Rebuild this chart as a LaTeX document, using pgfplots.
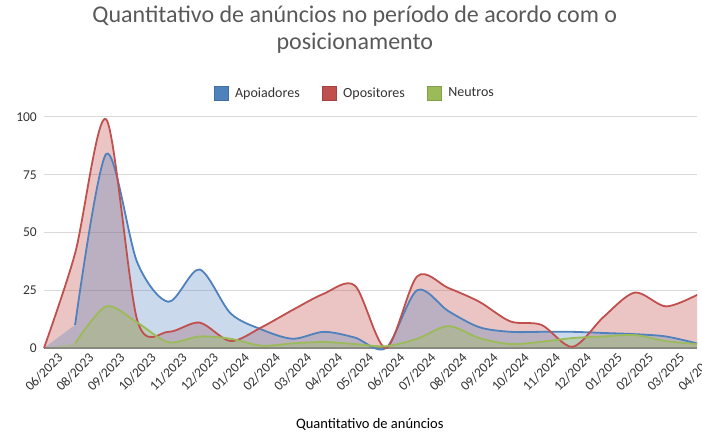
\documentclass[border=0pt]{standalone}
\usepackage{pgfplots}
\pgfplotsset{compat=1.18}
\usepackage{fontspec}
\setmainfont{Carlito}
\definecolor{cblue}{HTML}{4F81BD}
\definecolor{cred}{HTML}{C0504D}
\definecolor{cgreen}{HTML}{9BBB59}
\definecolor{ctext}{HTML}{595959}
\definecolor{cgrid}{HTML}{D9D9D9}
\definecolor{caxis}{HTML}{868686}
\begin{document}
\begin{tikzpicture}
\path[use as bounding box] (0pt,0pt) rectangle (702pt,434pt);
\begin{axis}[
  at={(44pt,86pt)}, anchor=south west,
  scale only axis, width=653pt, height=231pt,
  xmin=0, xmax=21, ymin=0, ymax=100,
  clip=false,
  xtick={0,...,21},
  xticklabels={06/2023,08/2023,09/2023,10/2023,11/2023,12/2023,01/2024,02/2024,03/2024,04/2024,05/2024,06/2024,07/2024,08/2024,09/2024,10/2024,11/2024,12/2024,01/2025,02/2025,03/2025,04/2025},
  ytick={0,25,50,75,100},
  ymajorgrids, major grid style={cgrid, line width=1pt},
  major tick length=0pt,
  axis x line*=bottom, axis y line*=left,
  y axis line style={draw=none},
  x axis line style={draw=caxis, line width=1.3pt},
  tick label style={font=\fontsize{13.5}{15}\selectfont, text=black!80},
  /pgf/number format/assume math mode=true,
  xticklabel style={rotate=45, anchor=north east, inner sep=1pt, xshift=7pt, yshift=-11pt},
  yticklabel style={inner sep=2pt, xshift=-5pt},
  title={Quantitativo de anúncios no período de acordo com o\\posicionamento},
  title style={at={(0.476,1.351)}, anchor=center, align=center, font=\fontsize{24}{27}\selectfont, text=ctext},
  xlabel={Quantitativo de anúncios},
  xlabel style={at={(0.499,-0.333)}, anchor=center, font=\fontsize{14.5}{16}\selectfont, text=black},
  legend style={at={(0.476,1.104)}, anchor=center, draw=none, legend columns=3,
    font=\fontsize{14}{16}\selectfont, text=black!80,
    /tikz/every odd column/.append style={column sep=5pt},
    /tikz/every even column/.append style={column sep=20pt}},
  legend image code/.code={\draw[#1] (0pt,-7pt) rectangle (14pt,7pt);},
]
% areas
\addplot[forget plot, draw=none, fill=cred, fill opacity=0.33, smooth] coordinates {
(0,0)(1,41)(2,99)(3,12)(4,7)(5,11)(6,3)(7,9)(8,16.5)(9,23.5)(10,27)(11,0)(12,31)(13,26)(14,20)(15,11.5)(16,10)(17,0.5)(18,13.5)(19,24)(20,18)(21,23)} \closedcycle;
\addplot[forget plot, draw=none, fill=cblue, fill opacity=0.3, sharp plot] coordinates {(0,0)(1,10)(1,0)} -- cycle;
\addplot[forget plot, draw=none, fill=cblue, fill opacity=0.3, smooth] coordinates {
(1,10)(2,84)(3,37)(4,20)(5,34)(6,15)(7,8)(8,4)(9,7)(10,4.5)(11,0)(12,25)(13,16)(14,9)(15,7)(16,7)(17,7)(18,6.5)(19,6)(20,5)(21,2)} \closedcycle;
\addplot[forget plot, draw=none, fill=cgreen, fill opacity=0.35, sharp plot] coordinates {(0,0)(1,2)(1,0)} -- cycle;
\addplot[forget plot, draw=none, fill=cgreen, fill opacity=0.35, smooth] coordinates {
(1,2)(2,18)(3,11)(4,2.5)(5,5)(6,4)(7,1)(8,2)(9,2.6)(10,1.7)(11,0.8)(12,4)(13,9.5)(14,4.3)(15,1.7)(16,2.7)(17,4.3)(18,5)(19,5.6)(20,3)(21,1.7)} \closedcycle;
% lines
\addplot[forget plot, cblue, line width=1.8pt, smooth] coordinates {
(1,10)(2,84)(3,37)(4,20)(5,34)(6,15)(7,8)(8,4)(9,7)(10,4.5)(11,0)(12,25)(13,16)(14,9)(15,7)(16,7)(17,7)(18,6.5)(19,6)(20,5)(21,2)};
\addplot[forget plot, cred, line width=1.8pt, smooth] coordinates {
(0,0)(1,41)(2,99)(3,12)(4,7)(5,11)(6,3)(7,9)(8,16.5)(9,23.5)(10,27)(11,0)(12,31)(13,26)(14,20)(15,11.5)(16,10)(17,0.5)(18,13.5)(19,24)(20,18)(21,23)};
\addplot[forget plot, cgreen, line width=1.8pt, smooth] coordinates {
(1,2)(2,18)(3,11)(4,2.5)(5,5)(6,4)(7,1)(8,2)(9,2.6)(10,1.7)(11,0.8)(12,4)(13,9.5)(14,4.3)(15,1.7)(16,2.7)(17,4.3)(18,5)(19,5.6)(20,3)(21,1.7)};
\addlegendimage{fill=cblue, draw=cblue!85!black}
\addlegendentry{Apoiadores}
\addlegendimage{fill=cred, draw=cred!85!black}
\addlegendentry{Opositores}
\addlegendimage{fill=cgreen, draw=cgreen!85!black}
\addlegendentry{Neutros}
\end{axis}
\end{tikzpicture}
\end{document}
